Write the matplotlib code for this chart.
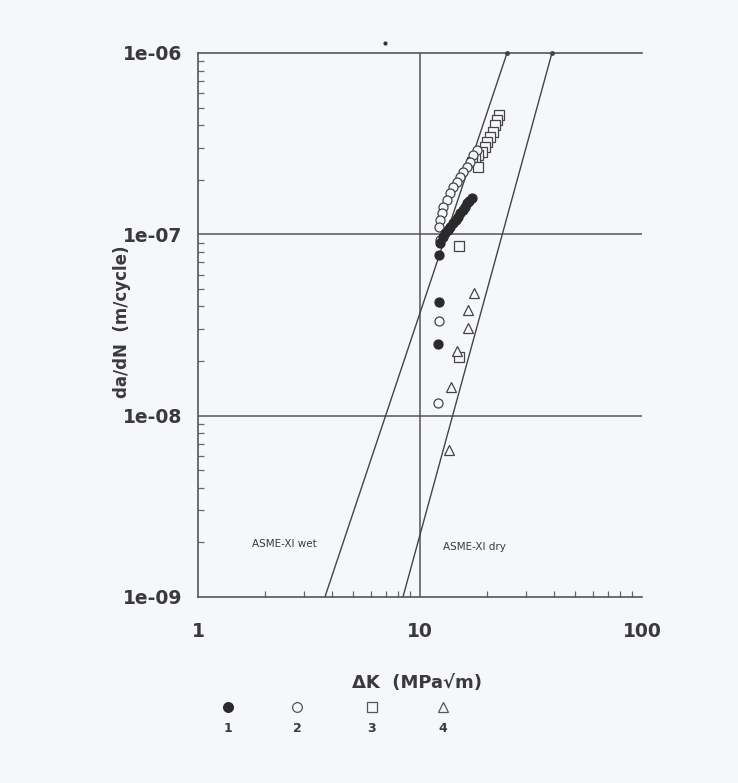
import matplotlib
matplotlib.use("Agg")
import matplotlib.pyplot as plt
from matplotlib.ticker import LogLocator, FixedLocator, FixedFormatter, NullFormatter

# ---- data ----
s1_dk = [17.1, 16.6, 16.3, 15.95, 15.6, 15.1, 14.8, 14.5, 14.1, 13.65, 13.4, 12.96, 12.7, 12.3, 12.2, 12.2, 12.0]
s1_da = [1.59e-7, 1.53e-7, 1.49e-7, 1.42e-7, 1.36e-7, 1.31e-7, 1.25e-7, 1.20e-7, 1.155e-7, 1.10e-7, 1.06e-7,
         1.02e-7, 9.67e-8, 8.95e-8, 7.69e-8, 4.24e-8, 2.48e-8]
s2_dk = [18.06, 17.3, 16.8, 16.3, 15.6, 15.1, 14.7, 14.1, 13.65, 13.2, 12.7, 12.6, 12.3, 12.2, 12.3, 12.2, 12.0]
s2_da = [2.92e-7, 2.74e-7, 2.50e-7, 2.35e-7, 2.21e-7, 2.07e-7, 1.94e-7, 1.82e-7, 1.69e-7, 1.55e-7, 1.42e-7,
         1.31e-7, 1.20e-7, 1.10e-7, 9.3e-8, 3.32e-8, 1.17e-8]
s3_dk = [22.7, 22.2, 21.8, 21.3, 20.7, 20.0, 19.6, 19.0, 18.2, 17.7, 17.1, 18.2, 15.0, 15.0]
s3_da = [4.55e-7, 4.27e-7, 4.01e-7, 3.67e-7, 3.44e-7, 3.23e-7, 3.03e-7, 2.84e-7, 2.74e-7, 2.63e-7, 2.50e-7,
         2.35e-7, 8.6e-8, 2.1e-8]
s4_dk = [17.5, 16.5, 16.5, 14.7, 13.8, 13.5]
s4_da = [4.75e-8, 3.82e-8, 3.04e-8, 2.27e-8, 1.44e-8, 6.46e-9]

wet_dk = [3.73, 24.66]
wet_da = [1e-9, 1e-6]
dry_dk = [8.38, 39.3]
dry_da = [1e-9, 1e-6]

x_ticks = [1, 10, 100]
x_tick_labels = ["1", "10", "100"]
y_ticks = [1e-9, 1e-8, 1e-7, 1e-6]
y_tick_labels = ["1e-09", "1e-08", "1e-07", "1e-06"]
legend_labels = ["1", "2", "3", "4"]

# ---- figure ----
W, H = 738, 783
bg = "#f5f7fa"
ink = "#3a3a3a"
fig = plt.figure(figsize=(W / 100, H / 100), dpi=100, facecolor=bg)
ax = fig.add_axes([198 / W, 1 - 597 / H, (642 - 198) / W, (597 - 53) / H])
ax.set_facecolor(bg)
ax.set_xscale("log")
ax.set_yscale("log")
ax.set_xlim(1, 100)
ax.set_ylim(1e-9, 1e-6)

for s in ["top", "bottom", "left"]:
    ax.spines[s].set_color("#555555")
    ax.spines[s].set_linewidth(1.2)
ax.spines["right"].set_visible(False)

# grid
ax.axvline(10, color="#555555", lw=1.1, zorder=1)
for yv in [1e-8, 1e-7]:
    ax.axhline(yv, color="#555555", lw=1.1, zorder=1)

ax.xaxis.set_major_locator(FixedLocator(x_ticks))
ax.xaxis.set_major_formatter(FixedFormatter(x_tick_labels))
ax.yaxis.set_major_locator(FixedLocator(y_ticks))
ax.yaxis.set_major_formatter(FixedFormatter(y_tick_labels))
ax.xaxis.set_minor_locator(LogLocator(base=10, subs=range(2, 10)))
ax.yaxis.set_minor_locator(LogLocator(base=10, subs=range(2, 10)))
ax.xaxis.set_minor_formatter(NullFormatter())
ax.yaxis.set_minor_formatter(NullFormatter())
ax.tick_params(which="major", length=0, pad=11, labelsize=13.5, labelcolor=ink)
ax.tick_params(axis="x", which="major", pad=18)
ax.tick_params(which="minor", direction="in", length=4, width=0.9, color="#666666")
for lab in ax.get_xticklabels() + ax.get_yticklabels():
    lab.set_fontweight("bold")

# ASME lines
ax.plot(wet_dk, wet_da, color="#444444", lw=1.0, zorder=2)
ax.plot(dry_dk, dry_da, color="#444444", lw=1.0, zorder=2)
ax.plot([wet_dk[1], dry_dk[1]], [wet_da[1], dry_da[1]], ls="none", marker="o", ms=2.5,
        color="#444444", clip_on=False, zorder=3)
ax.text(1.75, 1.96e-9, "ASME-XI wet", fontsize=7.5, color=ink, ha="left", va="center")
ax.text(12.7, 1.88e-9, "ASME-XI dry", fontsize=7.5, color=ink, ha="left", va="center")

# data
mk = dict(ls="none", ms=6.5, mew=0.9, zorder=4, clip_on=False)
ax.plot(s3_dk, s3_da, marker="s", mfc=bg, mec="#444444", **mk)
ax.plot(s2_dk, s2_da, marker="o", mfc=bg, mec="#444444", **mk)
ax.plot(s4_dk, s4_da, marker="^", mfc=bg, mec="#444444", **mk)
ax.plot(s1_dk, s1_da, marker="o", mfc="#2a2a2a", mec="#2a2a2a", **mk)

# axis labels
fig.text(417 / W, 1 - 683 / H, "ΔK  (MPa√m)", ha="center", va="center",
         fontsize=13, fontweight="bold", color=ink)
fig.text(122 / W, 1 - 322 / H, "da/dN  (m/cycle)", ha="center", va="center",
         rotation=90, fontsize=12, fontweight="bold", color=ink)

# legend row
leg_x = [228, 297, 372, 443]
styles = [dict(marker="o", mfc="#2a2a2a", mec="#2a2a2a"),
          dict(marker="o", mfc=bg, mec="#555555"),
          dict(marker="s", mfc=bg, mec="#555555"),
          dict(marker="^", mfc=bg, mec="#555555")]
lax = fig.add_axes([0, 0, 1, 1], facecolor="none")
lax.set_xlim(0, W)
lax.set_ylim(H, 0)
lax.axis("off")
for xp, st, lb in zip(leg_x, styles, legend_labels):
    lax.plot([xp], [707], ls="none", ms=7, mew=0.9, **st)
    lax.text(xp, 728, lb, ha="center", va="center", fontsize=9, fontweight="bold", color=ink)
lax.plot([385], [43], ls="none", marker="o", ms=2, color="#333333")

fig.savefig("out.png", dpi=100, facecolor=bg)
